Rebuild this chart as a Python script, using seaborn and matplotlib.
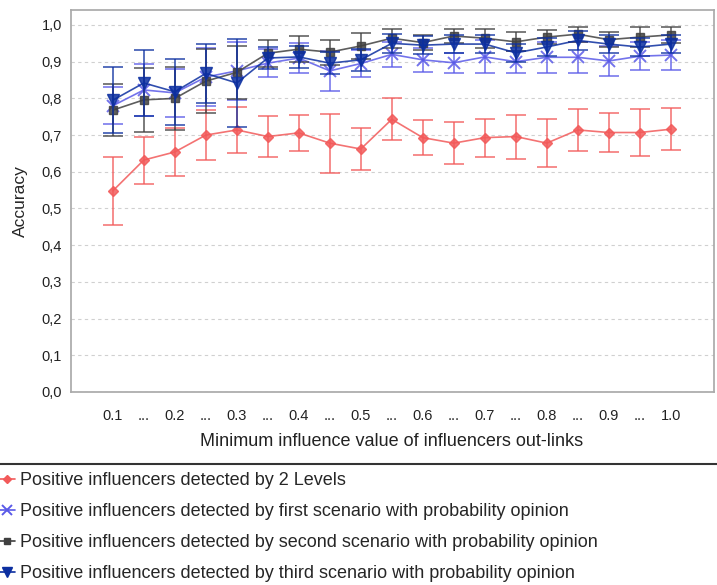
import matplotlib
matplotlib.use("Agg")
import matplotlib.pyplot as plt
from matplotlib.lines import Line2D
import numpy as np
import pandas as pd
import seaborn as sns

# ── données ──
x_labels = ["0.1", "...", "0.2", "...", "0.3", "...", "0.4", "...", "0.5", "...",
            "0.6", "...", "0.7", "...", "0.8", "...", "0.9", "...", "1.0"]

two_levels = [0.548, 0.632, 0.654, 0.700, 0.714, 0.696, 0.706, 0.678, 0.662, 0.743,
              0.693, 0.678, 0.693, 0.696, 0.678, 0.714, 0.707, 0.707, 0.716]
two_levels_err = [0.093, 0.064, 0.065, 0.068, 0.063, 0.055, 0.050, 0.080, 0.057, 0.057,
                  0.048, 0.057, 0.052, 0.060, 0.065, 0.058, 0.052, 0.065, 0.057]

first_sc = [0.780, 0.823, 0.815, 0.858, 0.875, 0.896, 0.910, 0.875, 0.895, 0.920,
            0.905, 0.897, 0.913, 0.900, 0.912, 0.912, 0.902, 0.915, 0.918]
first_err = [0.050, 0.070, 0.065, 0.080, 0.080, 0.038, 0.040, 0.055, 0.037, 0.035,
             0.033, 0.027, 0.045, 0.030, 0.042, 0.042, 0.041, 0.038, 0.041]

second_sc = [0.768, 0.796, 0.800, 0.847, 0.871, 0.923, 0.934, 0.926, 0.943, 0.964,
             0.952, 0.970, 0.964, 0.954, 0.967, 0.975, 0.960, 0.967, 0.973]
second_err = [0.070, 0.087, 0.086, 0.087, 0.072, 0.037, 0.036, 0.034, 0.035, 0.026,
              0.021, 0.020, 0.026, 0.026, 0.019, 0.020, 0.020, 0.028, 0.022]

third_sc = [0.795, 0.842, 0.818, 0.868, 0.842, 0.910, 0.913, 0.896, 0.905, 0.950,
            0.945, 0.948, 0.948, 0.924, 0.940, 0.958, 0.948, 0.940, 0.948]
third_err = [0.090, 0.090, 0.090, 0.080, 0.120, 0.030, 0.030, 0.030, 0.030, 0.025,
             0.025, 0.025, 0.025, 0.025, 0.025, 0.025, 0.025, 0.025, 0.025]

series_names = [
    "Positive influencers detected by 2 Levels",
    "Positive influencers detected by first scenario with probability opinion",
    "Positive influencers detected by second scenario with probability opinion",
    "Positive influencers detected by third scenario with probability opinion",
]

sns.set_theme(style="white")
plt.rcParams["font.family"] = ["Liberation Sans", "DejaVu Sans"]

fig = plt.figure(figsize=(7.17, 5.85), dpi=100)
ax = fig.add_axes([0.099, 0.330, 0.897, 0.653])

x = np.arange(len(x_labels))
styles = [
    (two_levels, two_levels_err, "#f25a5a", "D", 5, 1.0),
    (first_sc, first_err, "#5a5ae8", "x", 8, 1.4),
    (second_sc, second_err, "#404040", "s", 5.5, 1.0),
    (third_sc, third_err, "#0c2fa0", "v", 8.5, 1.0),
]

handles = []
for (vals, err, color, marker, msize, mew), name in zip(styles, series_names):
    df = pd.DataFrame({"x": x, "acc": vals})
    sns.lineplot(data=df, x="x", y="acc", ax=ax, color=color, marker=marker,
                 markersize=msize, markeredgecolor=color, markeredgewidth=mew,
                 linewidth=1.2, alpha=0.85, legend=False)
    ax.errorbar(x, vals, yerr=err, fmt="none", ecolor=color, elinewidth=1.3,
                capsize=7, capthick=1.3, alpha=0.75)
    handles.append(Line2D([], [], color=color, marker=marker, markersize=msize - 1,
                          markeredgewidth=mew, linewidth=1.2, label=name))

ax.set_xlim(-1.35, 19.4)
ax.set_ylim(0, 1.041)
ax.set_yticks(np.arange(0, 1.01, 0.1))
ax.set_yticklabels([f"{v:.1f}".replace(".", ",") for v in np.arange(0, 1.01, 0.1)])
ax.set_xticks(x)
ax.set_xticklabels(x_labels)
ax.tick_params(axis="both", labelsize=10.5, colors="#222222", length=3)
ax.tick_params(axis="x", pad=9)
ax.yaxis.grid(True, linestyle=(0, (3, 3)), color="#d0d0d0", linewidth=0.8)
ax.set_axisbelow(True)
for s in ax.spines.values():
    s.set_color("#aaaaaa")
ax.set_xlabel("")
ax.set_ylabel("Accuracy", fontsize=12.5, labelpad=10)

fig.text(392 / 717, 1 - 442 / 585, "Minimum influence value of influencers out-links",
         ha="center", va="center", fontsize=13, color="#222222")

# trait de séparation au-dessus de la légende
fig.add_artist(Line2D([0, 1], [1 - 464 / 585] * 2, transform=fig.transFigure,
                      color="#333333", linewidth=1.5))

fig.legend(handles=handles, loc="upper left", bbox_to_anchor=(-0.002, 1 - 472 / 585),
           frameon=False, fontsize=13, handlelength=0.9, handletextpad=0.3,
           labelspacing=0.78, borderaxespad=0, borderpad=0)

fig.savefig("out.png", dpi=100)
